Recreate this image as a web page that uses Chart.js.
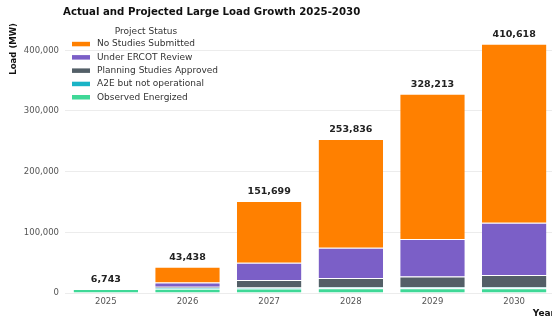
<!DOCTYPE html>
<html>
<head>
<meta charset="utf-8">
<script src="https://cdn.jsdelivr.net/npm/chart.js@4.4.1/dist/chart.umd.min.js"></script>
<style>
  html, body { margin: 0; padding: 0; background: #ffffff; overflow: hidden; }
  #wrap { width: 565px; height: 321px; }
</style>
</head>
<body>
<div id="wrap"><canvas id="c" width="565" height="321"></canvas></div>
<script>
// Years on the x axis
const years = ['2025', '2026', '2027', '2028', '2029', '2030'];

// Load by project status (MW), stacked bottom to top
const observedEnergized   = [6743, 7100, 7400, 7800, 7800, 7900];
const a2eNotOperational   = [0, 1400, 1600, 1600, 1600, 1600];
const planningApproved    = [0, 1800, 12400, 15300, 17600, 20200];
const underErcotReview    = [0, 6900, 28500, 49900, 61800, 86200];
const noStudiesSubmitted  = [0, 26238, 101799, 179236, 239413, 294718];

// Stated yearly totals shown above each bar
const yearTotals = [6743, 43438, 151699, 253836, 328213, 410618];

// Y axis tick values
const yTickValues = [0, 100000, 200000, 300000, 400000];

const seriesNames = ['Observed Energized', 'A2E but not operational', 'Planning Studies Approved', 'Under ERCOT Review', 'No Studies Submitted'];
const seriesColors = ['#3fd897', '#19b4c6', '#535f67', '#7b5fc7', '#ff8000'];
const seriesValues = [observedEnergized, a2eNotOperational, planningApproved, underErcotReview, noStudiesSubmitted];

const fmt = v => Number(v).toLocaleString('en-US');

// Title, legend and total labels
const overlay = {
  id: 'overlay',
  afterDatasetsDraw(chart) {
    const ctx = chart.ctx;
    const xs = chart.scales.x, ys = chart.scales.y;
    ctx.save();
    // totals above bars
    ctx.fillStyle = '#222222';
    ctx.font = 'bold 9.5px "DejaVu Sans"';
    ctx.textAlign = 'center';
    ctx.textBaseline = 'middle';
    yearTotals.forEach((t, i) => {
      ctx.fillText(fmt(t), xs.getPixelForValue(i), ys.getPixelForValue(t) - 9);
    });
    ctx.restore();
  },
  afterDraw(chart) {
    const ctx = chart.ctx;
    ctx.save();
    // chart title
    ctx.fillStyle = '#111111';
    ctx.font = 'bold 10.2px "DejaVu Sans"';
    ctx.textAlign = 'left';
    ctx.textBaseline = 'middle';
    ctx.fillText('Actual and Projected Large Load Growth 2025-2030', 63, 12.5);

    // legend (reverse of stacking order)
    ctx.font = '9px "DejaVu Sans"';
    ctx.fillStyle = '#333333';
    ctx.textAlign = 'center';
    ctx.fillText('Project Status', 146, 31.5);
    ctx.textAlign = 'left';
    const ds = chart.data.datasets;
    for (let k = 0; k < ds.length; k++) {
      const d = ds[ds.length - 1 - k];
      const y = 44 + k * 13.3;
      ctx.fillStyle = d.backgroundColor;
      ctx.fillRect(72, y - 2.2, 18, 4.5);
      ctx.fillStyle = '#333333';
      ctx.fillText(d.label, 97, y);
    }
    ctx.restore();
  }
};

new Chart(document.getElementById('c'), {
  type: 'bar',
  data: {
    labels: years,
    datasets: seriesNames.map((name, i) => ({
      label: name,
      data: seriesValues[i],
      backgroundColor: seriesColors[i],
      borderColor: 'rgba(255,255,255,0.6)',
      borderWidth: { top: 1, left: 0, right: 0, bottom: 0 },
      borderSkipped: false,
      categoryPercentage: 0.79,
      barPercentage: 1.0
    }))
  },
  options: {
    responsive: false,
    animation: false,
    layout: { padding: { top: 23, right: 10, left: 0, bottom: 0 } },
    plugins: {
      legend: { display: false },
      title: { display: false },
      tooltip: { enabled: false }
    },
    scales: {
      x: {
        stacked: true,
        grid: { display: false, drawTicks: false },
        border: { display: false },
        ticks: { color: '#555555', font: { family: 'DejaVu Sans', size: 8.5 }, padding: 4 },
        title: {
          display: true, text: 'Year', align: 'end', color: '#111111',
          font: { family: 'DejaVu Sans', size: 9, weight: 'bold' },
          padding: { top: 0, bottom: 2 }
        },
        afterFit(s) { s.height = 28; }
      },
      y: {
        stacked: true,
        min: 0,
        max: 445000,
        grid: { color: '#ececec', lineWidth: 1, drawTicks: false },
        border: { display: false },
        ticks: {
          stepSize: 100000,
          color: '#555555',
          font: { family: 'DejaVu Sans', size: 8.5 },
          padding: 6,
          callback: v => fmt(v)
        },
        afterBuildTicks(s) {
          s.ticks = yTickValues.map(v => ({ value: v }));
        },
        title: {
          display: true, text: 'Load (MW)', align: 'end', color: '#111111',
          font: { family: 'DejaVu Sans', size: 8.5, weight: 'bold' },
          padding: { top: 9, bottom: 0 }
        },
        afterFit(s) { s.width = 65; }
      }
    }
  },
  plugins: [overlay]
});
</script>
</body>
</html>
